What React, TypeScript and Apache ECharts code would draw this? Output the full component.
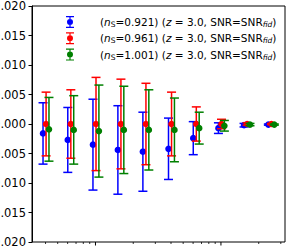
import React, { useEffect, useRef } from 'react';
import * as echarts from 'echarts';

// base x positions (log scale) of the 10 bins
const xBase = [0.4, 0.63, 1.0, 1.58, 2.5, 4.0, 6.3, 10, 16, 25];
// per-series horizontal dodge (multiplicative on log axis)
const xShift = [0.955, 1.01, 1.065];
const nsLabels = ['0.921', '0.961', '1.001'];
const colors = ['#0000ff', '#ff0000', '#008000'];

const blueY = [-0.0016, -0.0027, -0.0035, -0.0044, -0.0047, -0.0042, -0.0024, -0.0007, -0.0002, -0.0001];
const blueErr = [0.0052, 0.0055, 0.0077, 0.0075, 0.0067, 0.0052, 0.0028, 0.0009, 0.0003, 0.0001];
const redY = [0, 0, 0, 0, 0, 0, 0, 0, 0, 0];
const redErr = [0.0054, 0.0058, 0.0079, 0.0076, 0.0069, 0.0054, 0.0029, 0.0008, 0.0002, 0.0001];
const greenY = [-0.0009, -0.001, -0.0012, -0.001, -0.001, -0.001, -0.0007, -0.0003, -0.0001, -0.0001];
const greenErr = [0.0054, 0.0058, 0.0078, 0.0074, 0.0068, 0.0054, 0.0027, 0.0009, 0.0002, 0.0001];

const seriesY = [blueY, redY, greenY];
const seriesErr = [blueErr, redErr, greenErr];

const xMajorTicks = [1, 10];
const xMajorExp = ['0', '1'];
const xMinorTicks = [0.4, 0.5, 0.6, 0.7, 0.8, 0.9, 2, 3, 4, 5, 6, 7, 8, 9, 20, 30];

const xMin = 0.312;
const xMax = 32.4;
const yMin = -0.02;
const yMax = 0.02;
const yInterval = 0.005;

const FONT = 'DejaVu Sans';

const legendIcon =
  'path://M0,0H8V1.2H0Z M0,10.8H8V12H0Z M3.4,0H4.6V12H3.4Z M1,6A3,3 0 1,1 7,6A3,3 0 1,1 1,6Z';

export default function App() {
  const ref = useRef<HTMLDivElement>(null);
  useEffect(() => {
    if (!ref.current) return;
    const chart = echarts.init(ref.current, undefined, { renderer: 'svg' });
    const names = nsLabels.map((v) => `n_S=${v}`);

    const errSeries = names.map((name, si) => ({
      name,
      type: 'custom',
      itemStyle: { color: colors[si] },
      encode: { x: 0, y: 1 },
      data: xBase.map((x, i) => [x * xShift[si], seriesY[si][i], seriesErr[si][i]]),
      renderItem: (params: any, api: any) => {
        const x = api.value(0);
        const y = api.value(1);
        const e = api.value(2);
        const c = api.coord([x, y]);
        const t = api.coord([x, y + e]);
        const b = api.coord([x, y - e]);
        const cap = 4.5;
        const ls = { stroke: colors[si], lineWidth: 1.5 };
        return {
          type: 'group',
          children: [
            { type: 'line', shape: { x1: c[0], y1: t[1], x2: c[0], y2: b[1] }, style: ls },
            { type: 'line', shape: { x1: c[0] - cap, y1: t[1], x2: c[0] + cap, y2: t[1] }, style: ls },
            { type: 'line', shape: { x1: c[0] - cap, y1: b[1], x2: c[0] + cap, y2: b[1] }, style: ls },
            { type: 'circle', shape: { cx: c[0], cy: c[1], r: 3.3 }, style: { fill: colors[si] } },
          ],
        };
      },
    }));

    const tickData = [
      ...xMajorTicks.map((v, i) => [v, 1, i]),
      ...xMinorTicks.map((v) => [v, 0, -1]),
    ];

    const tickSeries = {
      name: 'xticks',
      type: 'custom',
      silent: true,
      data: tickData,
      encode: { x: 0 },
      renderItem: (params: any, api: any) => {
        const v = api.value(0);
        const major = api.value(1) === 1;
        const idx = api.value(2);
        const p = api.coord([v, yMin]);
        const len = major ? 3.5 : 2;
        const children: any[] = [
          {
            type: 'line',
            shape: { x1: p[0], y1: p[1], x2: p[0], y2: p[1] + len },
            style: { stroke: '#000', lineWidth: major ? 1 : 0.8 },
          },
        ];
        if (major && idx >= 0) {
          children.push({
            type: 'text',
            style: {
              x: p[0],
              y: p[1] + 6,
              text: `{b|10}{s|${xMajorExp[idx]}}`,
              align: 'center',
              verticalAlign: 'top',
              rich: {
                b: { fontFamily: FONT, fontSize: 11.5, fill: '#000', padding: [5, 0, 0, 0] },
                s: { fontFamily: FONT, fontSize: 8, fill: '#000' },
              },
            },
          });
        }
        return { type: 'group', children };
      },
    };

    const option: any = {
      animation: false,
      grid: {
        left: 32,
        top: 6,
        right: 10,
        bottom: 8,
        outerBoundsMode: 'none',
        containLabel: false,
        show: true,
        borderColor: '#000',
        borderWidth: 1,
        backgroundColor: 'transparent',
      },
      legend: {
        orient: 'vertical',
        left: 61,
        top: 11,
        itemWidth: 34,
        itemHeight: 12,
        itemGap: 3.8,
        selectedMode: false,
        data: names.map((n) => ({ name: n, icon: legendIcon })),
        formatter: (name: string) => {
          const v = name.split('=')[1];
          return `{p0|(}{i|n}{sub|S}{p|=${v}) (}{i|z}{p| = 3.0, SNR=SNR}{subi|fid}{p|)}`;
        },
        textStyle: {
          fontFamily: FONT,
          fontSize: 10.5,
          color: '#000',
          rich: {
            p0: { fontFamily: FONT, fontSize: 10.5, color: '#000', lineHeight: 13, padding: [0, 0, 0, 8] },
            p: { fontFamily: FONT, fontSize: 10.5, color: '#000', lineHeight: 13 },
            i: { fontFamily: FONT, fontSize: 10.5, fontStyle: 'italic', color: '#000', lineHeight: 13 },
            sub: { fontFamily: FONT, fontSize: 7.5, color: '#000', padding: [5, 0, 0, 0] },
            subi: { fontFamily: FONT, fontSize: 7.5, fontStyle: 'italic', color: '#000', padding: [5, 0, 0, 0] },
          },
        },
      },
      xAxis: {
        type: 'log',
        logBase: 10,
        min: xMin,
        max: xMax,
        axisLine: { show: false },
        axisTick: { show: false },
        axisLabel: { show: false },
        splitLine: { show: false },
      },
      yAxis: {
        type: 'value',
        min: yMin,
        max: yMax,
        interval: yInterval,
        axisLine: { show: true, lineStyle: { color: '#000', width: 1 } },
        axisTick: { show: true, length: 3.5, lineStyle: { color: '#000', width: 1 } },
        splitLine: { show: false },
        axisLabel: {
          margin: 6,
          fontFamily: FONT,
          fontSize: 11.5,
          color: '#000',
          formatter: (v: number) => (v < 0 ? '\u2212' : '') + Math.abs(v).toFixed(3),
        },
      },
      series: [...errSeries, tickSeries],
    };
    chart.setOption(option);
    return () => chart.dispose();
  }, []);
  return (
    <div
      ref={ref}
      style={{ position: 'fixed', left: 0, top: 0, width: 295, height: 250, background: '#fff' }}
    />
  );
}
